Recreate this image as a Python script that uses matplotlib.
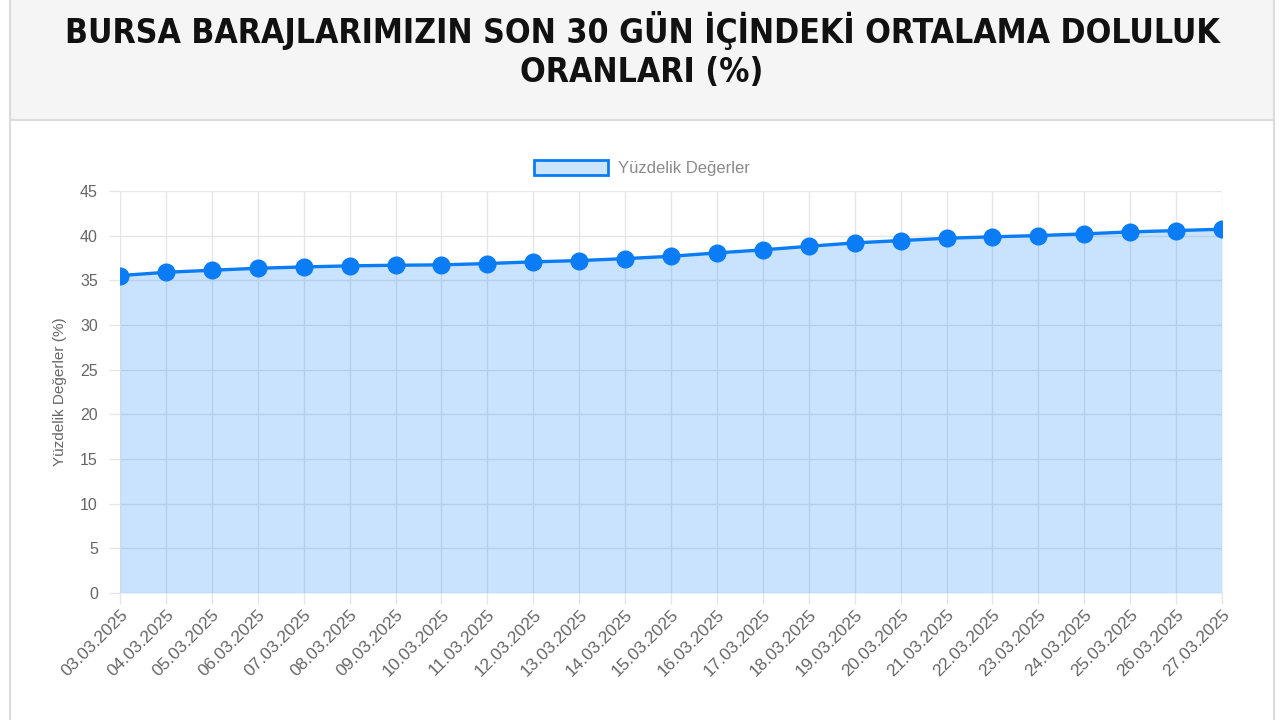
import matplotlib
matplotlib.use("Agg")
import matplotlib.pyplot as plt
from matplotlib.patches import Rectangle, Patch
from matplotlib.lines import Line2D

# ---- data ----
dates = ["03.03.2025", "04.03.2025", "05.03.2025", "06.03.2025", "07.03.2025",
         "08.03.2025", "09.03.2025", "10.03.2025", "11.03.2025", "12.03.2025",
         "13.03.2025", "14.03.2025", "15.03.2025", "16.03.2025", "17.03.2025",
         "18.03.2025", "19.03.2025", "20.03.2025", "21.03.2025", "22.03.2025",
         "23.03.2025", "24.03.2025", "25.03.2025", "26.03.2025", "27.03.2025"]
values = [35.53, 35.90, 36.13, 36.35, 36.50, 36.62, 36.69, 36.73, 36.88, 37.07,
          37.21, 37.43, 37.69, 38.07, 38.41, 38.81, 39.19, 39.45, 39.71, 39.87,
          40.01, 40.20, 40.42, 40.57, 40.72]
y_ticks = [0, 5, 10, 15, 20, 25, 30, 35, 40, 45]
title_lines = ["BURSA BARAJLARIMIZIN SON 30 GÜN İÇİNDEKİ ORTALAMA DOLULUK", "ORANLARI (%)"]
series_label = "Yüzdelik Değerler"
y_label = "Yüzdelik Değerler (%)"

W, H = 1280, 720
LINE = "#0a7cf5"
FILL = "#007bff"
TXT = "#666666"
GRID = "#e6e6e6"
FONT = ["Liberation Sans", "DejaVu Sans"]

fig = plt.figure(figsize=(W / 100, H / 100), dpi=100)
fig.patch.set_facecolor("white")

def fx(px):
    return px / W

def fy(py):
    return 1 - py / H

# header panel and card borders
fig.patches.append(Rectangle((fx(10), fy(120)), fx(1274) - fx(10), fy(0) - fy(120),
                             transform=fig.transFigure, facecolor="#f5f5f5",
                             edgecolor="none", zorder=0))
for xs, ys in [([10, 1274], [120, 120]), ([10, 10], [0, 720]), ([1274, 1274], [0, 720])]:
    fig.lines.append(Line2D([fx(v) for v in xs], [fy(v) for v in ys],
                            transform=fig.transFigure, color="#dcdcdc", lw=1.5, zorder=1))

# title
for line, ypx in zip(title_lines, [30, 73]):
    fig.text(fx(642), fy(ypx), line, ha="center", va="center",
             fontsize=24.2, fontweight="bold", fontstretch="condensed",
             family=["DejaVu Sans"], color="#111111")

# axes
ax = fig.add_axes([fx(120), fy(593), fx(1222) - fx(120), fy(191) - fy(593)])
ax.set_facecolor("white")
x = list(range(len(dates)))
ax.fill_between(x, 0, values, color=FILL, alpha=0.21, lw=0, zorder=2)
ax.plot(x, values, color=LINE, lw=2.4, marker="o", markersize=12,
        markerfacecolor=LINE, markeredgecolor=LINE, zorder=3)

ax.set_xlim(0, len(dates) - 1)
ax.set_ylim(0, 45)
ax.set_xticks(x)
ax.set_xticklabels(dates, rotation=45, ha="right", rotation_mode="anchor",
                   fontsize=12.5, color=TXT, family=FONT)
ax.set_yticks(y_ticks)
ax.set_yticklabels([str(v) for v in y_ticks], fontsize=11.5, color=TXT, family=FONT)
ax.tick_params(axis="both", length=8, color=GRID, width=1)
ax.tick_params(axis="y", pad=8)
ax.tick_params(axis="x", pad=2)
ax.grid(True, color=GRID, lw=1, zorder=0)
ax.set_axisbelow(True)
for s in ax.spines.values():
    s.set_visible(False)

fig.text(fx(60), fy(392), y_label, rotation=90, ha="center", va="center",
         fontsize=11, color=TXT, family=FONT)

# legend
handle = Patch(facecolor="#cce5ff", edgecolor=LINE, linewidth=2)
fig.legend([handle], [series_label], loc="center", bbox_to_anchor=(fx(642), fy(168)),
           frameon=False, prop={"family": FONT, "size": 12},
           labelcolor="#8a8a8a", handlelength=4.4, handleheight=1.0, handletextpad=0.6)

fig.savefig("out.png", dpi=100, facecolor="white")
